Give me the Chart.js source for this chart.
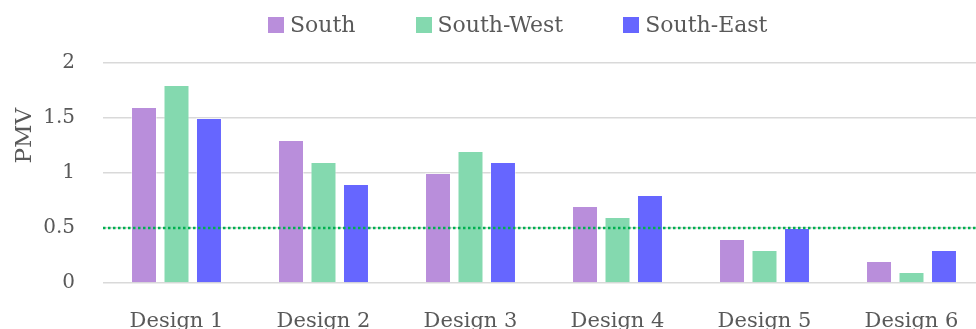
<!DOCTYPE html>
<html lang="en">
<head>
    <meta charset="UTF-8">
    <title>PMV by Design and Orientation</title>
    <script src="https://cdn.jsdelivr.net/npm/chart.js"></script>
    <style>
        html, body {
            margin: 0;
            padding: 0;
            background: #ffffff;
            overflow: hidden;
        }
        #wrap {
            position: absolute;
            left: 0;
            top: 0;
            width: 990px;
            height: 335px;
        }
        #legend {
            position: absolute;
            left: 268px;
            top: 11px;
            display: flex;
            gap: 60px;
            font-family: 'DejaVu Serif', 'Liberation Serif', serif;
            font-size: 22px;
            color: #595959;
            white-space: nowrap;
        }
        .legend-item {
            display: flex;
            align-items: center;
            line-height: 28px;
        }
        .legend-box {
            width: 16px;
            height: 16px;
            margin-right: 6px;
        }
    </style>
</head>
<body>
    <div id="wrap">
        <canvas id="pmvChart" width="990" height="335"></canvas>
    </div>
    <div id="legend"></div>

    <script>
        const designs = ['Design 1', 'Design 2', 'Design 3', 'Design 4', 'Design 5', 'Design 6'];
        const southPmv = [1.6, 1.3, 1.0, 0.7, 0.4, 0.2];
        const southWestPmv = [1.8, 1.1, 1.2, 0.6, 0.3, 0.1];
        const southEastPmv = [1.5, 0.9, 1.1, 0.8, 0.5, 0.3];
        const comfortLimit = 0.5;
        const yTicks = [0, 0.5, 1, 1.5, 2];

        const textColor = '#595959';
        const fontFamily = "'DejaVu Serif', 'Liberation Serif', serif";

        // green dotted reference line across the plot at the comfort limit
        const limitLine = {
            id: 'limitLine',
            afterDatasetsDraw(chart) {
                const { ctx, chartArea } = chart;
                const y = chart.scales.y.getPixelForValue(comfortLimit);
                ctx.save();
                ctx.strokeStyle = '#00B050';
                ctx.lineWidth = 2.5;
                ctx.setLineDash([2.5, 2.5]);
                ctx.beginPath();
                ctx.moveTo(chartArea.left, y);
                ctx.lineTo(chartArea.right, y);
                ctx.stroke();
                ctx.restore();
            }
        };

        // rotated axis title, sitting a bit above the middle of the axis
        const axisTitle = {
            id: 'axisTitle',
            afterDraw(chart) {
                const { ctx, chartArea } = chart;
                const y = chartArea.top + (chartArea.bottom - chartArea.top) * 0.33;
                ctx.save();
                ctx.translate(25, y);
                ctx.rotate(-Math.PI / 2);
                ctx.fillStyle = textColor;
                ctx.font = '23px ' + fontFamily;
                ctx.textAlign = 'center';
                ctx.textBaseline = 'middle';
                ctx.fillText('PMV', 0, 0);
                ctx.restore();
            }
        };

        const chart = new Chart(document.getElementById('pmvChart'), {
            type: 'bar',
            data: {
                labels: designs,
                datasets: [
                    {
                        label: 'South',
                        data: southPmv,
                        backgroundColor: '#B98EDB',
                        borderColor: 'rgba(255,255,255,0.45)',
                        borderWidth: 1
                    },
                    {
                        label: 'South-West',
                        data: southWestPmv,
                        backgroundColor: '#84D9AF',
                        borderColor: 'rgba(255,255,255,0.45)',
                        borderWidth: 1
                    },
                    {
                        label: 'South-East',
                        data: southEastPmv,
                        backgroundColor: '#6666FF',
                        borderColor: 'rgba(255,255,255,0.45)',
                        borderWidth: 1
                    }
                ]
            },
            options: {
                responsive: false,
                animation: false,
                devicePixelRatio: 1,
                categoryPercentage: 0.663,
                barPercentage: 0.8,
                layout: {
                    padding: { top: 63, right: 5, left: 0, bottom: 0 }
                },
                plugins: {
                    legend: { display: false },
                    tooltip: { enabled: false }
                },
                scales: {
                    x: {
                        grid: { display: false },
                        border: { display: false },
                        ticks: {
                            color: textColor,
                            padding: 18,
                            font: { family: fontFamily, size: 21 }
                        },
                        afterFit(scale) { scale.height = 52; }
                    },
                    y: {
                        min: 0,
                        max: 2,
                        afterBuildTicks(scale) {
                            scale.ticks = yTicks.map(v => ({ value: v }));
                        },
                        grid: {
                            color: '#D9D9D9',
                            lineWidth: 1.5,
                            drawTicks: false
                        },
                        border: { display: false },
                        ticks: {
                            color: textColor,
                            padding: 28,
                            font: { family: fontFamily, size: 20 },
                            callback: value => String(value)
                        },
                        afterFit(scale) { scale.width = 103; }
                    }
                }
            },
            plugins: [limitLine, axisTitle]
        });

        // legend built from the chart's own datasets
        const legendEl = document.getElementById('legend');
        chart.data.datasets.forEach(ds => {
            const item = document.createElement('div');
            item.className = 'legend-item';
            const box = document.createElement('span');
            box.className = 'legend-box';
            box.style.background = ds.backgroundColor;
            const label = document.createElement('span');
            label.textContent = ds.label;
            item.appendChild(box);
            item.appendChild(label);
            legendEl.appendChild(item);
        });
    </script>
</body>
</html>
